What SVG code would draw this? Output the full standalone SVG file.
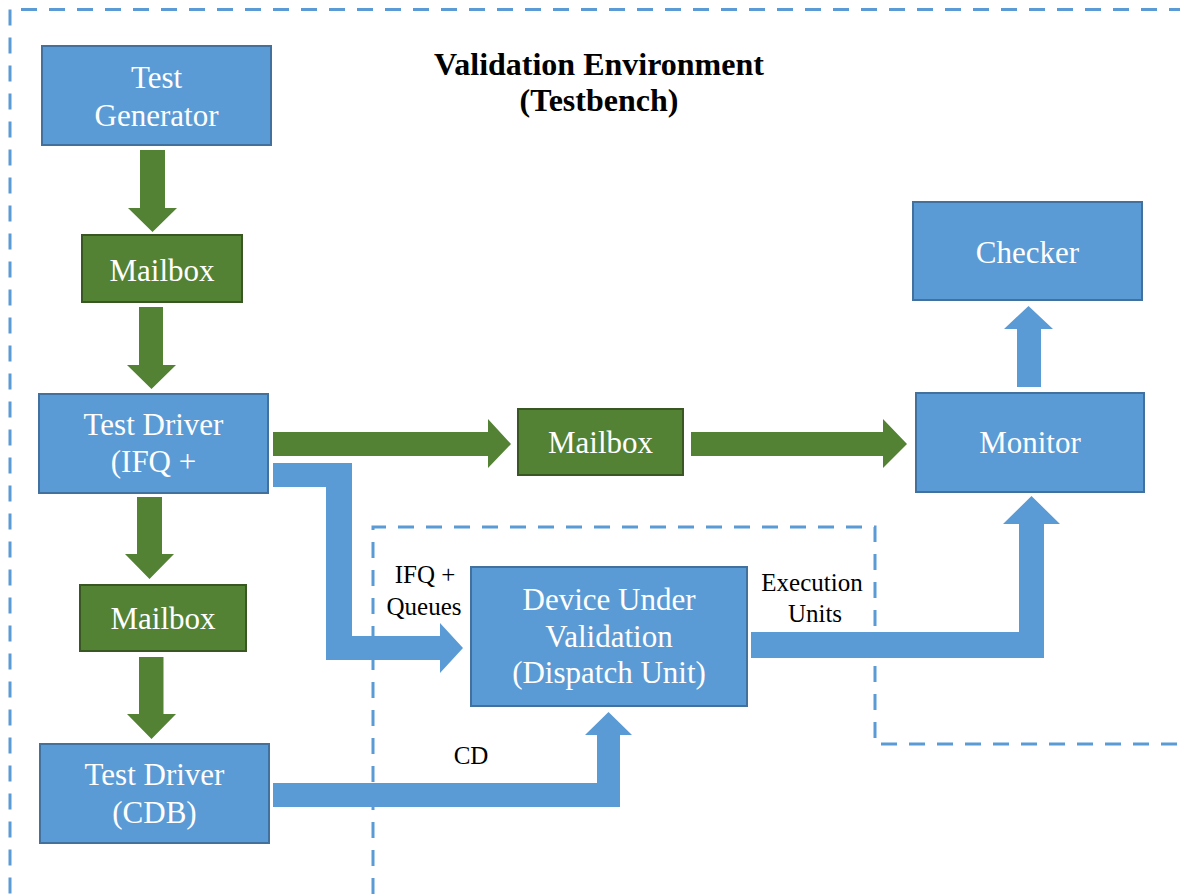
<svg xmlns="http://www.w3.org/2000/svg" width="1180" height="894" viewBox="0 0 1180 894">
  <style>
    .bbox { fill: #5B9BD5; stroke: #41719C; stroke-width: 2; }
    .gbox { fill: #548235; stroke: #385723; stroke-width: 2; }
    .btxt { font-family: "Liberation Serif", "Times New Roman", serif; font-size: 31px; fill: #ffffff; text-anchor: middle; }
    .lbl { font-family: "Liberation Serif", "Times New Roman", serif; font-size: 25px; fill: #000000; text-anchor: middle; }
    .title { font-family: "Liberation Serif", "Times New Roman", serif; font-size: 32px; font-weight: bold; fill: #000000; text-anchor: middle; }
    .dash { fill: none; stroke: #5B9BD5; stroke-width: 3; stroke-dasharray: 16 12; }
    .garrow { fill: #548235; }
    .barrow { fill: #5B9BD5; }
  </style>

  <rect width="1180" height="894" fill="#ffffff"/>

  <!-- Boundaries: testbench (outer) and device under validation (inner) -->
  <g id="boundaries">
    <path class="dash" d="M21,9.5 H1180"/>
    <path class="dash" d="M10,9.5 V894"/>
    <path class="dash" d="M373,894 V527 H875 V744 H1180"/>
  </g>

  <g id="title">
    <text class="title" x="599" y="75">Validation Environment</text>
    <text class="title" x="599" y="111">(Testbench)</text>
  </g>

  <!-- Block arrows -->
  <g id="connectors">
    <!-- Test Generator -> Mailbox -->
    <polygon class="garrow" points="140,150 165,150 165,208 177,208 152.5,232 128,208 140,208"/>
    <!-- Mailbox -> Test Driver (IFQ) -->
    <polygon class="garrow" points="139,307 163,307 163,365 176,365 151.5,389 127,365 139,365"/>
    <!-- Test Driver (IFQ) -> Mailbox -->
    <polygon class="garrow" points="137,497 162,497 162,554 174,554 149.5,579 125,554 137,554"/>
    <!-- Mailbox -> Test Driver (CDB) -->
    <polygon class="garrow" points="139,657 163.5,657 163.5,714 176,714 151.5,739 127,714 139,714"/>
    <!-- Test Driver (IFQ) -> Mailbox (middle) -->
    <polygon class="garrow" points="273,432 488,432 488,419 511,444 488,468 488,456 273,456"/>
    <!-- Mailbox (middle) -> Monitor -->
    <polygon class="garrow" points="691,432 883,432 883,419 907,444 883,468 883,456 691,456"/>
    <!-- Test Driver (IFQ) -> Device Under Validation -->
    <polygon class="barrow" points="273,463 352,463 352,636 440,636 440,623 463,648 440,673 440,660 326,660 326,487 273,487"/>
    <!-- Test Driver (CDB) -> Device Under Validation -->
    <polygon class="barrow" points="273,783 597,783 597,735 585,735 608.5,712 632,735 620,735 620,807 273,807"/>
    <!-- Device Under Validation -> Monitor -->
    <polygon class="barrow" points="751,632 1019,632 1019,524 1003,524 1031.5,496 1060,524 1044,524 1044,658 751,658"/>
    <!-- Monitor -> Checker -->
    <polygon class="barrow" points="1017,387 1017,329 1004,329 1028.5,306 1053,329 1041,329 1041,387"/>
  </g>

  <g id="edge-labels">
    <text class="lbl" x="425" y="583">IFQ +</text>
    <text class="lbl" x="424" y="615">Queues</text>
    <text class="lbl" x="812" y="591">Execution</text>
    <text class="lbl" x="815" y="622">Units</text>
    <text class="lbl" x="471" y="764">CD</text>
  </g>

  <g id="test-generator">
    <rect class="bbox" x="42" y="46" width="229" height="99"/>
    <text class="btxt" x="156.5" y="88">Test</text>
    <text class="btxt" x="156.5" y="126">Generator</text>
  </g>

  <g id="mailbox-1">
    <rect class="gbox" x="82" y="235" width="160" height="67"/>
    <text class="btxt" x="162" y="281">Mailbox</text>
  </g>

  <g id="test-driver-ifq">
    <rect class="bbox" x="39" y="394" width="229" height="99"/>
    <text class="btxt" x="153.5" y="435">Test Driver</text>
    <text class="btxt" x="153.5" y="472">(IFQ +</text>
  </g>

  <g id="mailbox-2">
    <rect class="gbox" x="80" y="585" width="166" height="66"/>
    <text class="btxt" x="163" y="629">Mailbox</text>
  </g>

  <g id="test-driver-cdb">
    <rect class="bbox" x="40" y="744" width="229" height="99"/>
    <text class="btxt" x="154.5" y="785">Test Driver</text>
    <text class="btxt" x="154.5" y="823">(CDB)</text>
  </g>

  <g id="mailbox-3">
    <rect class="gbox" x="518" y="409" width="165" height="66"/>
    <text class="btxt" x="600.5" y="453">Mailbox</text>
  </g>

  <g id="monitor">
    <rect class="bbox" x="916" y="393" width="228" height="99"/>
    <text class="btxt" x="1030" y="453">Monitor</text>
  </g>

  <g id="checker">
    <rect class="bbox" x="913" y="202" width="229" height="98"/>
    <text class="btxt" x="1027.5" y="263">Checker</text>
  </g>

  <g id="device-under-validation">
    <rect class="bbox" x="471" y="567" width="276" height="139"/>
    <text class="btxt" x="609" y="610">Device Under</text>
    <text class="btxt" x="609" y="647">Validation</text>
    <text class="btxt" x="609" y="683">(Dispatch Unit)</text>
  </g>
</svg>
